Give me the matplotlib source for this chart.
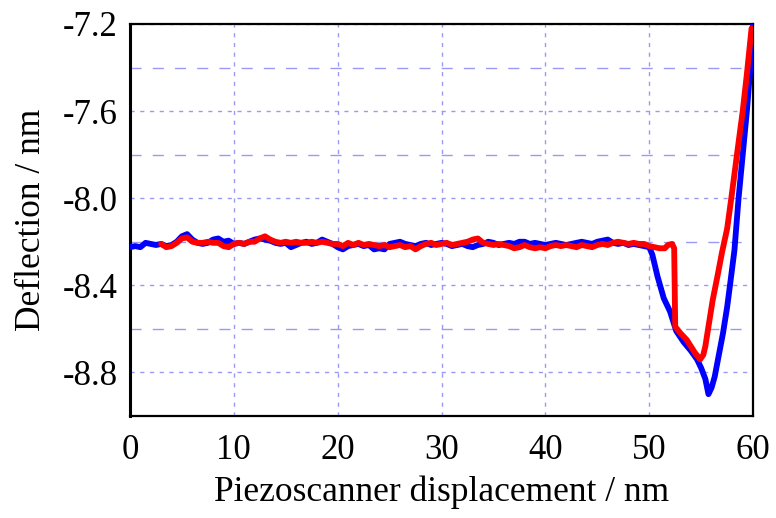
import matplotlib
matplotlib.use("Agg")
import matplotlib.pyplot as plt

plt.rcParams['font.family'] = ['Liberation Serif', 'DejaVu Serif']

# Approach curve (blue)
blue_x = [0.0, 0.5, 1.0, 1.5, 2.0, 2.5, 3.0, 3.5, 4.0, 4.5, 5.0, 5.5, 6.0, 6.5, 7.0, 7.5, 8.0, 8.5, 9.0, 9.5,
          10.0, 10.5, 11.0, 11.5, 12.0, 12.5, 13.0, 13.5, 14.0, 14.5, 15.0, 15.5, 16.0, 16.5, 17.0, 17.5, 18.0, 18.5, 19.0, 19.5,
          20.0, 20.5, 21.0, 21.5, 22.0, 22.5, 23.0, 23.5, 24.0, 24.5, 25.0, 25.5, 26.0, 26.5, 27.0, 27.5, 28.0, 28.5, 29.0, 29.5,
          30.0, 30.5, 31.0, 31.5, 32.0, 32.5, 33.0, 33.5, 34.0, 34.5, 35.0, 35.5, 36.0, 36.5, 37.0, 37.5, 38.0, 38.5, 39.0, 39.5,
          40.0, 40.5, 41.0, 41.5, 42.0, 42.5, 43.0, 43.5, 44.0, 44.5, 45.0, 45.5, 46.0, 46.5, 47.0, 47.5, 48.0, 48.5, 49.0, 49.5,
          50.0, 50.3, 50.8, 51.4, 52.0, 52.6, 53.3, 54.0, 54.6, 55.0, 55.4, 55.7, 56.0, 56.3, 56.7, 57.1, 57.5, 57.8, 58.2, 58.6,
          59.0, 59.4, 59.7, 60.0]
blue_y = [-8.225, -8.22, -8.225, -8.205, -8.21, -8.215, -8.21, -8.22, -8.215, -8.20, -8.175, -8.165, -8.19, -8.205, -8.21, -8.205, -8.19, -8.185, -8.20, -8.195,
          -8.21, -8.205, -8.21, -8.20, -8.19, -8.185, -8.19, -8.195, -8.205, -8.21, -8.205, -8.225, -8.215, -8.205, -8.20, -8.21, -8.205, -8.19, -8.20, -8.21,
          -8.225, -8.235, -8.22, -8.215, -8.21, -8.22, -8.215, -8.235, -8.23, -8.235, -8.21, -8.205, -8.20, -8.21, -8.215, -8.22, -8.21, -8.205, -8.215, -8.21,
          -8.205, -8.21, -8.22, -8.215, -8.21, -8.22, -8.225, -8.215, -8.21, -8.20, -8.205, -8.215, -8.21, -8.205, -8.21, -8.20, -8.20, -8.21, -8.205, -8.21,
          -8.215, -8.21, -8.205, -8.21, -8.215, -8.21, -8.205, -8.20, -8.205, -8.21, -8.20, -8.195, -8.19, -8.205, -8.21, -8.205, -8.215, -8.21, -8.215, -8.22,
          -8.225, -8.26, -8.36, -8.46, -8.52, -8.61, -8.66, -8.70, -8.74, -8.78, -8.83, -8.90, -8.87, -8.82, -8.72, -8.62, -8.50, -8.39, -8.24, -8.00,
          -7.80, -7.60, -7.42, -7.20]

# Retract curve (red)
red_x = [3.0, 3.5, 4.0, 4.5, 5.0, 5.5, 6.0, 6.5, 7.0, 7.5, 8.0, 8.5, 9.0, 9.5,
         10.0, 10.5, 11.0, 11.5, 12.0, 12.5, 13.0, 13.5, 14.0, 14.5, 15.0, 15.5, 16.0, 16.5, 17.0, 17.5, 18.0, 18.5, 19.0, 19.5,
         20.0, 20.5, 21.0, 21.5, 22.0, 22.5, 23.0, 23.5, 24.0, 24.5, 25.0, 25.5, 26.0, 26.5, 27.0, 27.5, 28.0, 28.5, 29.0, 29.5,
         30.0, 30.5, 31.0, 31.5, 32.0, 32.5, 33.0, 33.5, 34.0, 34.5, 35.0, 35.5, 36.0, 36.5, 37.0, 37.5, 38.0, 38.5, 39.0, 39.5,
         40.0, 40.5, 41.0, 41.5, 42.0, 42.5, 43.0, 43.5, 44.0, 44.5, 45.0, 45.5, 46.0, 46.5, 47.0, 47.5, 48.0, 48.5, 49.0, 49.5,
         50.0, 50.5, 51.0, 51.5, 51.8, 52.2, 52.4, 52.5, 53.0, 53.6, 54.0, 54.4, 54.9, 55.2, 55.4, 55.7, 56.1, 56.6, 57.0, 57.5,
         57.9, 58.5, 59.0, 59.4, 59.85]
red_y = [-8.21, -8.225, -8.22, -8.205, -8.185, -8.18, -8.20, -8.205, -8.205, -8.20, -8.205, -8.205, -8.22, -8.225,
         -8.21, -8.205, -8.21, -8.20, -8.20, -8.185, -8.175, -8.19, -8.20, -8.205, -8.20, -8.205, -8.20, -8.205, -8.205, -8.20, -8.205, -8.20, -8.205, -8.21,
         -8.21, -8.22, -8.205, -8.215, -8.205, -8.215, -8.21, -8.215, -8.22, -8.215, -8.225, -8.22, -8.215, -8.225, -8.22, -8.235, -8.22, -8.21, -8.205, -8.215,
         -8.21, -8.205, -8.215, -8.21, -8.205, -8.20, -8.19, -8.185, -8.205, -8.21, -8.215, -8.21, -8.215, -8.22, -8.23, -8.225, -8.215, -8.225, -8.23, -8.225,
         -8.23, -8.22, -8.215, -8.22, -8.215, -8.22, -8.225, -8.215, -8.22, -8.225, -8.215, -8.21, -8.215, -8.205, -8.20, -8.205, -8.21, -8.205, -8.21, -8.21,
         -8.22, -8.225, -8.23, -8.23, -8.215, -8.21, -8.23, -8.59, -8.62, -8.65, -8.68, -8.71, -8.74, -8.72, -8.68, -8.59, -8.47, -8.35, -8.25, -8.14,
         -8.00, -7.78, -7.60, -7.43, -7.22]

x_ticks = [0, 10, 20, 30, 40, 50, 60]
y_ticks = [-8.8, -8.4, -8.0, -7.6, -7.2]
y_tick_labels = ["-8.8", "-8.4", "-8.0", "-7.6", "-7.2"]
y_minor_ticks = [-8.6, -8.2, -7.8, -7.4]

fig = plt.figure(figsize=(7.76, 5.18), dpi=100)
ax = fig.add_axes([0.1675, 0.197, 0.803, 0.7567])

ax.plot(blue_x, blue_y, color="#0000ff", lw=4.2, solid_joinstyle="round", solid_capstyle="round", zorder=3)
ax.plot(red_x, red_y, color="#ff0000", lw=4.2, solid_joinstyle="round", solid_capstyle="round", zorder=4)

ax.set_xlim(0, 60)
ax.set_ylim(-9.0, -7.2)
ax.set_xticks(x_ticks)
ax.set_yticks(y_ticks)
ax.set_yticklabels(y_tick_labels)
ax.set_yticks(y_minor_ticks, minor=True)

grid_color = "#9a9af5"
ax.grid(True, which="major", axis="both", color=grid_color, lw=1.0, linestyle=(0, (3, 4)), zorder=1)
ax.grid(True, which="minor", axis="y", color=grid_color, lw=1.0, linestyle=(0, (8, 8)), zorder=1)

ax.tick_params(which="both", length=0, labelsize=25)
ax.tick_params(axis="y", pad=9)
ax.tick_params(axis="x", pad=13)

for side in ["top", "right", "bottom"]:
    ax.spines[side].set_linewidth(1.6)
ax.spines["left"].set_linewidth(2.2)

ax.set_xlabel("Piezoscanner displacement / nm", fontsize=25.5, labelpad=6)
ax.set_ylabel("Deflection / nm", fontsize=25.5, labelpad=10)

fig.savefig("out.png", dpi=100)
